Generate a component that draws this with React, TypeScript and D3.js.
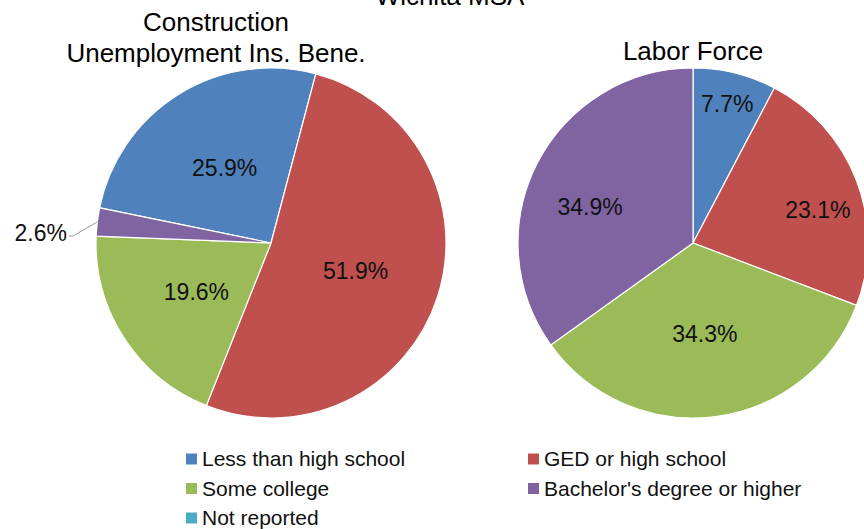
import React, { useRef, useEffect } from 'react';
import * as d3 from 'd3';

const categories = [
  'Less than high school',
  'GED or high school',
  'Some college',
  "Bachelor's degree or higher",
  'Not reported',
];
const colors = ['#4F81BD', '#C0504D', '#9BBB59', '#8064A2', '#4BACC6'];

const uiValues = [25.9, 51.9, 19.6, 2.6, 0];
const laborValues = [7.7, 23.1, 34.3, 34.9, 0];

const W = 864;
const H = 529;
const FONT = '"Liberation Sans", Arial, Helvetica, sans-serif';
const deg = Math.PI / 180;

const App = () => {
  const svgRef = useRef<SVGSVGElement>(null);

  useEffect(() => {
    const svg = d3.select(svgRef.current).attr('width', W).attr('height', H).html('');

    // Overall title (clipped at the top edge, as in the source)
    svg.append('text')
      .attr('x', 450).attr('y', 5)
      .attr('text-anchor', 'middle')
      .attr('font-size', 26)
      .text('Wichita MSA');

    const R = 175;
    const arc = d3.arc<d3.PieArcDatum<number>>().innerRadius(0).outerRadius(R);

    const drawPie = (
      cx: number,
      values: number[],
      startDeg: number,
      titleLines: string[],
      titleY: number,
      labelPos: ([number, number] | null)[],
    ) => {
      const pie = d3.pie<number>().sort(null).value(d => d)
        .startAngle(startDeg * deg).endAngle((startDeg + 360) * deg);
      const g = svg.append('g').attr('transform', `translate(${cx},243)`);
      const arcs = pie(values);
      g.selectAll('path')
        .data(arcs.filter(a => a.value > 0))
        .enter()
        .append('path')
          .attr('d', arc)
          .attr('fill', d => colors[d.index])
          .attr('stroke', '#fff')
          .attr('stroke-width', 1.2);

      arcs.forEach((a, i) => {
        const lp = labelPos[i];
        if (!lp || a.value <= 0) return;
        const ang = ((a.startAngle + a.endAngle) / 2) + lp[1] * deg;
        const x = Math.sin(ang) * lp[0];
        const y = -Math.cos(ang) * lp[0];
        g.append('text')
          .attr('x', x).attr('y', y)
          .attr('dy', '0.35em')
          .attr('text-anchor', 'middle')
          .attr('font-size', 23)
          .attr('fill', '#111')
          .text(`${a.value.toFixed(1)}%`);
      });

      titleLines.forEach((t, i) => {
        svg.append('text')
          .attr('x', cx - (titleLines.length > 1 ? 55 : 0))
          .attr('y', titleY + i * 31)
          .attr('text-anchor', 'middle')
          .attr('font-size', 26)
          .text(t);
      });
      return { g, arcs };
    };

    // Left pie
    const left = drawPie(271, uiValues, -78.4,
      ['Construction', 'Unemployment Ins. Bene.'], 31,
      [[88, 0], [89, 0], [89, 0], null, null]);

    // outside label for the small slice with leader line
    const small = left.arcs[3];
    const mid = (small.startAngle + small.endAngle) / 2;
    const ex = Math.sin(mid) * R;
    const ey = -Math.cos(mid) * R;
    left.g.append('path')
      .attr('d', `M${ex},${ey} L${-198},${-7} L${-202},${-7}`)
      .attr('fill', 'none')
      .attr('stroke', '#999')
      .attr('stroke-width', 1);
    left.g.append('text')
      .attr('x', -204).attr('y', -10)
      .attr('dy', '0.35em')
      .attr('text-anchor', 'end')
      .attr('font-size', 23)
      .attr('fill', '#111')
      .text(`${small.value.toFixed(1)}%`);

    // Right pie
    drawPie(693, laborValues, 0, ['Labor Force'], 60,
      [[143, 0], [129, 6], [92, 0], [109, -8], null]);

    // Legend
    const legendItems = categories.map((c, i) => ({
      name: c,
      color: colors[i],
      x: i % 2 === 0 ? 186 : 528,
      y: 459 + Math.floor(i / 2) * 29.5,
    }));
    const lg = svg.append('g');
    lg.selectAll('rect')
      .data(legendItems)
      .enter()
      .append('rect')
        .attr('x', d => d.x).attr('y', d => d.y - 5.5)
        .attr('width', 11).attr('height', 11)
        .attr('fill', d => d.color);
    lg.selectAll('text')
      .data(legendItems)
      .enter()
      .append('text')
        .attr('x', d => d.x + 16).attr('y', d => d.y)
        .attr('dy', '0.35em')
        .attr('font-size', 21)
        .attr('fill', '#111')
        .text(d => d.name);
  }, []);

  return (
    <svg
      ref={svgRef}
      style={{ position: 'absolute', left: 0, top: 0, fontFamily: FONT, background: '#fff' }}
    />
  );
};

export default App;
